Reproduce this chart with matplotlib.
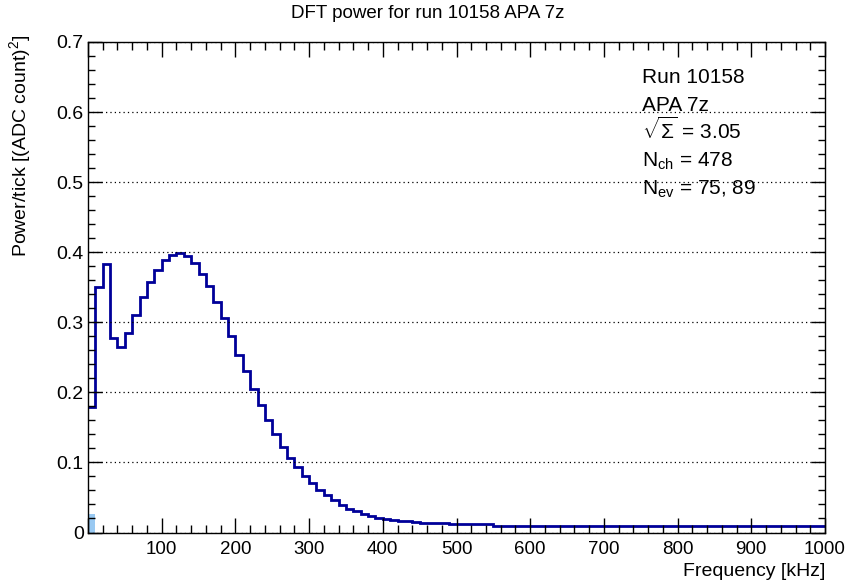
import numpy as np
import matplotlib
matplotlib.use("Agg")
import matplotlib.pyplot as plt
from matplotlib.ticker import MultipleLocator, FuncFormatter

plt.rcParams['font.family'] = ['Liberation Sans', 'DejaVu Sans']
plt.rcParams['mathtext.fontset'] = 'custom'
plt.rcParams['mathtext.rm'] = 'Liberation Sans'
plt.rcParams['mathtext.it'] = 'Liberation Sans'
plt.rcParams['mathtext.sf'] = 'Liberation Sans'

# DFT power per 10 kHz bin, 0 - 1000 kHz
bin_width = 10
power = [
    0.179, 0.351, 0.383, 0.277, 0.265, 0.284, 0.310, 0.336, 0.358, 0.374,
    0.389, 0.396, 0.399, 0.394, 0.384, 0.369, 0.352, 0.329, 0.306, 0.280,
    0.254, 0.231, 0.205, 0.182, 0.160, 0.141, 0.122, 0.106, 0.094, 0.080,
    0.070, 0.060, 0.053, 0.046, 0.039, 0.034, 0.031, 0.027, 0.024, 0.021,
    0.019, 0.018, 0.017, 0.016, 0.015, 0.014, 0.013, 0.013, 0.013, 0.012,
    0.012, 0.012, 0.012, 0.012, 0.012, 0.0095, 0.0095, 0.0095, 0.0095, 0.0095,
    0.0094, 0.0094, 0.0094, 0.0094, 0.0094, 0.0094, 0.0094, 0.0094, 0.0093, 0.0093,
    0.0093, 0.0093, 0.0093, 0.0093, 0.0093, 0.0093, 0.0093, 0.0093, 0.0093, 0.0093,
    0.0093, 0.0093, 0.0093, 0.0093, 0.0093, 0.0093, 0.0093, 0.0093, 0.0093, 0.0093,
    0.0093, 0.0093, 0.0093, 0.0093, 0.0093, 0.0093, 0.0093, 0.0093, 0.0093, 0.0093,
]
# small filled histogram (first bin only)
dc_power = [0.026]

info_lines = ['Run 10158', 'APA 7z', r'$\sqrt{\Sigma}$ = 3.05',
              r'N$_{\rm ch}$ = 478', r'N$_{\rm ev}$ = 75, 89']

edges = np.arange(len(power) + 1) * bin_width

W, H = 850, 585
fig = plt.figure(figsize=(W / 100, H / 100), dpi=100)
ax = fig.add_axes([88 / W, 1 - 532.5 / H, (825 - 88) / W, (532.5 - 42) / H])

ax.stairs(dc_power, edges[:2], fill=True, color='#99c9f2', baseline=0)
ax.stairs(power, edges, color='#000099', lw=2, baseline=None)

ax.set_xlim(0, 1000)
ax.set_ylim(0, 0.7)
ax.xaxis.set_major_locator(MultipleLocator(100))
ax.xaxis.set_minor_locator(MultipleLocator(20))
ax.yaxis.set_major_locator(MultipleLocator(0.1))
ax.yaxis.set_minor_locator(MultipleLocator(0.02))
ax.xaxis.set_major_formatter(FuncFormatter(lambda v, p: '' if v == 0 else f'{v:.0f}'))
ax.yaxis.set_major_formatter(FuncFormatter(lambda v, p: '0' if abs(v) < 1e-9 else f'{v:.1f}'))
ax.tick_params(which='both', direction='in', top=True, right=True, width=1)
ax.tick_params(axis='x', which='major', length=11, pad=6, labelsize=13.5)
ax.tick_params(axis='x', which='minor', length=5.5)
ax.tick_params(axis='y', which='major', length=10, pad=3, labelsize=14)
ax.tick_params(axis='y', which='minor', length=5)
ax.grid(axis='y', which='major', color='black', linestyle=(0, (1, 2.5)), lw=0.9)
for s in ax.spines.values():
    s.set_linewidth(1)

fig.text(0.503, 1 - 13 / H, 'DFT power for run 10158 APA 7z', ha='center', va='center', fontsize=13.5)
fig.text(825 / W, 1 - 571 / H, 'Frequency [kHz]', ha='right', va='center', fontsize=14)
fig.text(20 / W, 1 - 35 / H, r'Power/tick [(ADC count)$^{2}$]', ha='center', va='top',
         rotation=90, fontsize=14)

for i, line in enumerate(info_lines):
    fig.text(642 / W, 1 - (83 + 28 * i) / H, line, ha='left', va='baseline', fontsize=15)

fig.savefig('out.png', dpi=100)
